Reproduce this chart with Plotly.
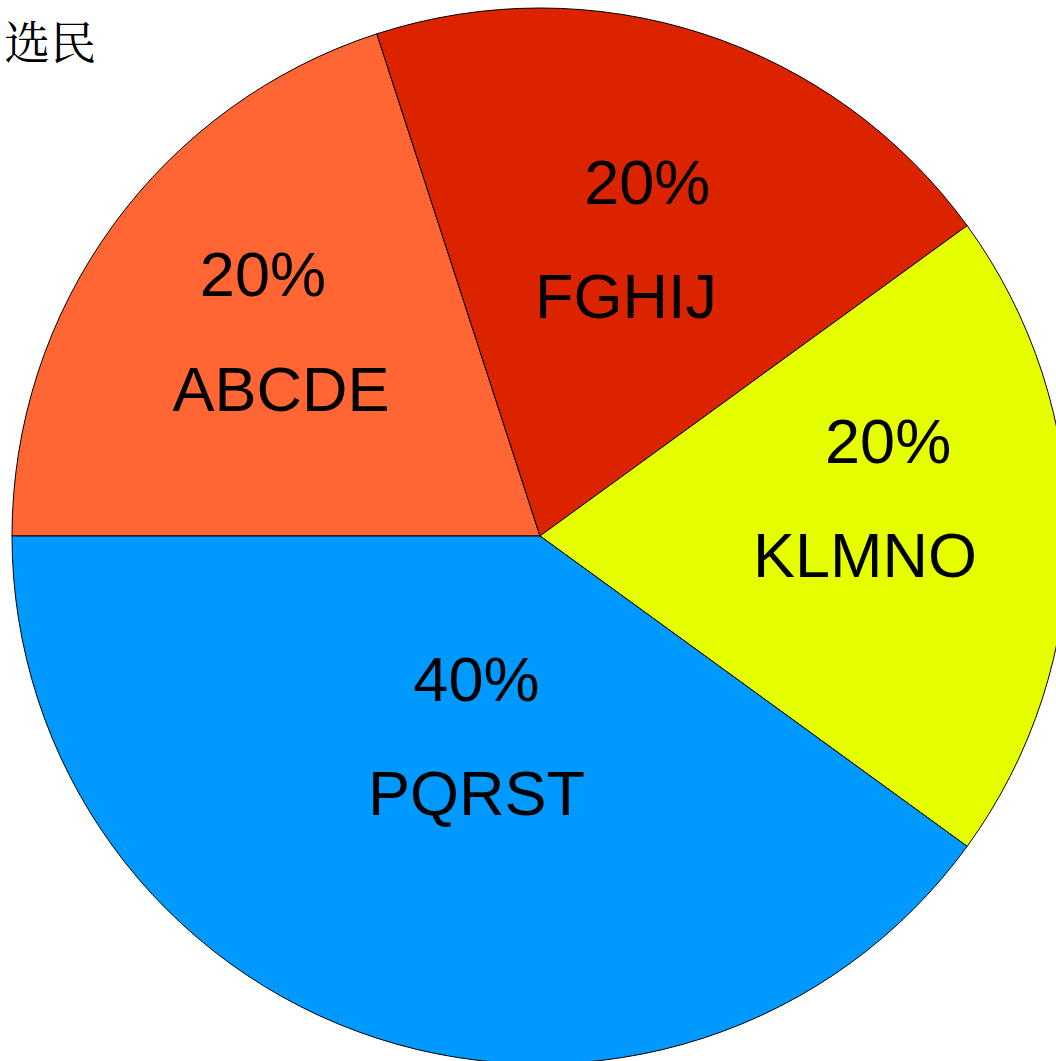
import plotly.graph_objects as go

labels = ["ABCDE", "FGHIJ", "KLMNO", "PQRST"]
values = [20, 20, 20, 40]
colors = ["#FF6633", "#DC2300", "#E6FF00", "#0099FF"]
title_text = "选民"

# visible text size and helper for invisible spacers (used only to nudge
# each label block inside its slice like the original renderer does)
VIS = 63


def vis(s):
    return f"<span style='font-size:{VIS}px'>{s}</span>"


def pad(s, size):
    return f"<span style='font-size:{size}px;color:rgba(0,0,0,0)'>{s}</span>"


PCT = "%{percent:.0%}"
LAB = "%{label}"
BR = "<br>"

templates = [
    # ABCDE
    vis(PCT) + pad("0", 29) + BR + BR + BR + pad(".", 148) + vis(LAB) + pad("0", 38),
    # FGHIJ
    pad(".", 63) + BR + pad("0", 16) + vis(PCT) + BR + BR + BR + vis(LAB) + pad("00", 30),
    # KLMNO
    pad("0", 56) + vis(PCT) + BR + BR + BR + vis(LAB) + pad("0", 27) + BR + BR + pad(".", 63),
    # PQRST
    pad("00", 36) + vis(PCT) + BR + BR + BR + pad("00", 36) + vis(LAB) + BR + BR + BR + pad(".", 63),
]

fig = go.Figure(go.Pie(
    labels=labels,
    values=values,
    sort=False,
    direction="clockwise",
    rotation=270,
    marker=dict(colors=colors, line=dict(color="#000000", width=1)),
    texttemplate=templates,
    textposition="inside",
    insidetextorientation="horizontal",
    textfont=dict(family="Liberation Sans, Arial, sans-serif", size=88 / 3, color="#000000"),
    showlegend=False,
    hoverinfo="label+percent",
))

fig.update_layout(
    width=1068,
    height=1064,
    margin=dict(l=12, r=0, t=8, b=0),
    paper_bgcolor="#FFFFFF",
    plot_bgcolor="#FFFFFF",
    title=dict(
        text=title_text,
        font=dict(family="Noto Serif CJK SC, Noto Sans CJK SC, serif", size=46, color="#000000"),
        xref="container", yref="container",
        x=0.004, xanchor="left",
        y=1 - 42.5 / 1064, yanchor="middle",
    ),
)

fig.write_html(
    "out.html",
    config={"displayModeBar": False},
    post_script="document.body.style.margin='0';document.body.style.overflow='hidden';",
)
